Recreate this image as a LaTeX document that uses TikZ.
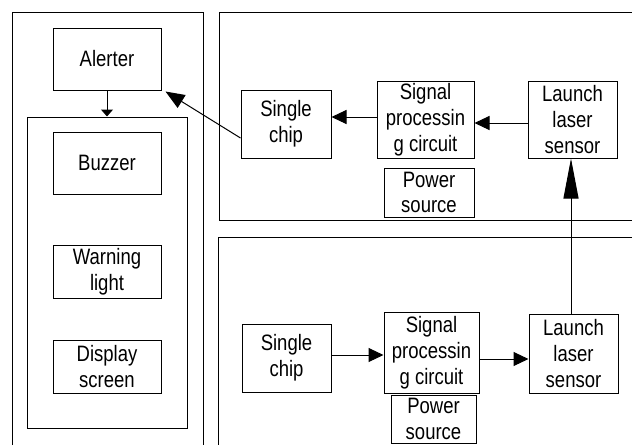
\documentclass[tikz,border=0pt]{standalone}
\usepackage{fontspec}
\newfontfamily\boxfont[FakeStretch=0.83]{Liberation Sans}
\usetikzlibrary{arrows.meta}
\begin{document}
\begin{tikzpicture}[x=1pt,y=-1pt,line width=1pt,
  box/.style={draw,inner sep=0pt,align=center,font=\boxfont\fontsize{22.3}{25.8}\selectfont},
  bigarrow/.style={-{Triangle[length=15pt,width=14pt]}},
  longarrow/.style={-{Triangle[length=40pt,width=15pt]}},
  diagarrow/.style={-{Triangle[length=19pt,width=15pt]}},
  smallarrow/.style={-{Triangle[length=7pt,width=12pt]}}]
\useasboundingbox (0,0) rectangle (632,445);
% frames
\draw (12,445) -- (12,12) -- (203,12) -- (203,445);
\draw (632,12) -- (219,12) -- (219,220) -- (632,220);
\draw (632,237) -- (218,237) -- (218,445);
% left column
\node[box,minimum width=108pt,minimum height=62pt] (alerter) at (107,59) {Alerter};
\node[box,minimum width=160pt,minimum height=311pt] (inner) at (107,272.5) {};
\node[box,minimum width=108pt,minimum height=62pt] (buzzer) at (107,163) {Buzzer};
\node[box,minimum width=108pt,minimum height=53pt] (warning) at (107,271.5) {Warning\\light};
\node[box,minimum width=108pt,minimum height=53pt] (display) at (107,366.5) {Display\\screen};
% top right
\node[box,minimum width=90pt,minimum height=68pt] (tchip) at (286,124) {Single\\chip};
\node[box,minimum width=97pt,minimum height=77pt] (tsignal) at (425.5,119.5) {Signal\\processin\\g circuit};
\node[box,minimum width=89pt,minimum height=77pt] (tlaunch) at (572.5,119.5) {Launch\\laser\\sensor};
\node[box,minimum width=90pt,minimum height=49pt] (tpower) at (429,192.5) {Power\\source};
% bottom right
\node[box,minimum width=89pt,minimum height=68pt] (bchip) at (286.5,358) {Single\\chip};
\node[box,minimum width=95pt,minimum height=81pt] (bsignal) at (431.5,352.5) {Signal\\processin\\g circuit};
\node[box,minimum width=89pt,minimum height=79pt] (blaunch) at (573.5,353.5) {Launch\\laser\\sensor};
\node[box,minimum width=85pt,minimum height=48pt] (bpower) at (433.5,419) {Power\\source};
% connectors
\draw[smallarrow] (alerter.south) -- (inner.north);
\draw[diagarrow] ([yshift=-14pt]tchip.west) -- ([xshift=4pt,yshift=-1pt]alerter.south east);
\draw[bigarrow] ([yshift=-3.5pt]tlaunch.west) -- ([yshift=-3.5pt]tsignal.east);
\draw[bigarrow] ([yshift=2.5pt]tsignal.west) -- (tchip.east |- 0,117);
\draw[bigarrow] (bchip.east |- 0,355) -- (bsignal.west |- 0,355);
\draw[bigarrow] (bsignal.east |- 0,359) -- (blaunch.west |- 0,359);
\draw[longarrow] (571,0 |- blaunch.north) -- (571,0 |- tlaunch.south);
\end{tikzpicture}
\end{document}
